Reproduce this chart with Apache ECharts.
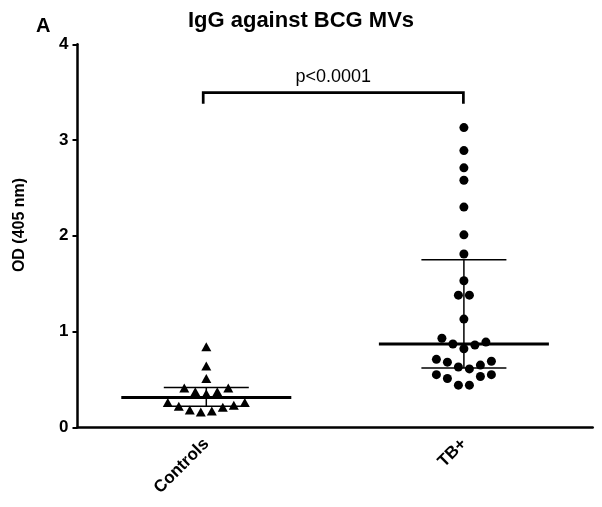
<!DOCTYPE html>
<html>
<head>
<meta charset="utf-8">
<script src="https://cdn.jsdelivr.net/npm/echarts@6/dist/echarts.min.js"></script>
<style>
html,body{margin:0;padding:0;background:#fff;}
#chart{width:602px;height:507px;}
</style>
</head>
<body>
<div id="chart"></div>
<script>
// ---- Data ----
const categories = ['Controls', 'TB+'];
const controlsValues = [0.84, 0.64, 0.51, 0.41, 0.37, 0.35, 0.37, 0.41, 0.26, 0.22, 0.18, 0.16, 0.17, 0.21, 0.23, 0.26];
const tbValues = [3.13, 2.89, 2.71, 2.58, 2.30, 2.01, 1.81, 1.53, 1.38, 1.38, 1.13,
  0.93, 0.87, 0.82, 0.86, 0.89,
  0.71, 0.68, 0.63, 0.61, 0.65, 0.69,
  0.55, 0.51, 0.44, 0.44, 0.53, 0.55];
const centerValues = [0.31, 0.87];
const lowerValues = [0.22, 0.62];
const upperValues = [0.415, 1.75];
const yTicks = [0, 1, 2, 3, 4];
const pLabel = 'p<0.0001';
const chartTitle = 'IgG against BCG MVs';
const panelLabel = 'A';
const yName = 'OD (405 nm)';

// ---- Layout (beeswarm slot indices, not data) ----
const controlsSlots = [0, 0, 0, -2, -1, 0, 1, 2, -3.5, -2.5, -1.5, -0.5, 0.5, 1.5, 2.5, 3.5];
const tbSlots = [0, 0, 0, 0, 0, 0, 0, 0, -0.5, 0.5, 0,
  -2, -1, 0, 1, 2,
  -2.5, -1.5, -0.5, 0.5, 1.5, 2.5,
  -2.5, -1.5, -0.5, 0.5, 1.5, 2.5];
const slotW = 0.0427;
const catCenter = i => i + 0.5;

const FONT = "'Liberation Sans', Arial, sans-serif";

const ctrlPts = controlsValues.map((v, i) => [catCenter(0) + controlsSlots[i] * slotW, v]);
const tbPts = tbValues.map((v, i) => [catCenter(1) + tbSlots[i] * slotW, v]);
const statData = categories.map((c, i) => [catCenter(i), centerValues[i], lowerValues[i], upperValues[i]]);

const chart = echarts.init(document.getElementById('chart'), null, {renderer: 'canvas'});
chart.setOption({
  backgroundColor: '#fff',
  animation: false,
  title: {
    text: chartTitle, left: 'center', top: 5,
    textStyle: {fontFamily: FONT, fontWeight: 'bold', fontSize: 22, color: '#000'}
  },
  graphic: [{
    type: 'text', left: 36, top: 16,
    style: {text: panelLabel, fontFamily: FONT, fontWeight: 'bold', fontSize: 20, fill: '#000'}
  }, {
    type: 'text', x: 20, y: 225, rotation: Math.PI / 2,
    style: {text: yName, fontFamily: FONT, fontWeight: 'bold', fontSize: 16, fill: '#000', align: 'center', verticalAlign: 'middle'}
  }],
  grid: {left: 77.5, right: 9.3, top: 44.3, bottom: 79.7},
  xAxis: [{
    type: 'category', data: categories, boundaryGap: true,
    axisLine: {lineStyle: {color: '#000', width: 2.5}},
    axisTick: {alignWithLabel: true, length: 6, lineStyle: {color: '#000', width: 2}},
    axisLabel: {rotate: 45, margin: 14, fontFamily: FONT, fontWeight: 'bold', fontSize: 17, color: '#000'},
    splitLine: {show: false}
  }, {
    type: 'value', min: 0, max: 2, show: false
  }],
  yAxis: {
    type: 'value', min: yTicks[0], max: yTicks[yTicks.length - 1], interval: 1,
    axisLine: {show: true, lineStyle: {color: '#000', width: 2.5}},
    axisTick: {show: true, length: 5, lineStyle: {color: '#000', width: 2}},
    axisLabel: {margin: 9, fontFamily: FONT, fontWeight: 'bold', fontSize: 17, color: '#000'},
    splitLine: {show: false}
  },
  series: [{
    type: 'scatter', xAxisIndex: 1, data: ctrlPts,
    symbol: 'triangle', symbolSize: [10, 9],
    itemStyle: {color: '#000', opacity: 1}, z: 3
  }, {
    type: 'scatter', xAxisIndex: 1, data: tbPts,
    symbol: 'circle', symbolSize: 9,
    itemStyle: {color: '#000', opacity: 1}, z: 3
  }, {
    type: 'custom', xAxisIndex: 1, data: statData, z: 4,
    renderItem: function (params, api) {
      const x = api.value(0), m = api.value(1), lo = api.value(2), hi = api.value(3);
      const mw = 0.33, cw = 0.165;
      const L = (a, b, w) => ({type: 'line', shape: {x1: a[0], y1: a[1], x2: b[0], y2: b[1]}, style: {stroke: '#000', lineWidth: w}});
      return {type: 'group', children: [
        L(api.coord([x - mw, m]), api.coord([x + mw, m]), 3),
        L(api.coord([x, lo]), api.coord([x, hi]), 1.5),
        L(api.coord([x - cw, hi]), api.coord([x + cw, hi]), 1.5),
        L(api.coord([x - cw, lo]), api.coord([x + cw, lo]), 1.5)
      ]};
    }
  }, {
    type: 'custom', xAxisIndex: 1, data: [[0.488, 1.498]], z: 4,
    renderItem: function (params, api) {
      const a = api.value(0), b = api.value(1);
      const top = 3.496, leg = 3.38;
      const pts = [api.coord([a, leg]), api.coord([a, top]), api.coord([b, top]), api.coord([b, leg])];
      const t = api.coord([(a + b) / 2, 3.66]);
      return {type: 'group', children: [
        {type: 'polyline', shape: {points: pts}, style: {stroke: '#000', lineWidth: 2.7, fill: null}},
        {type: 'text', x: t[0], y: t[1], style: {text: pLabel, fontFamily: FONT, fontSize: 18, fill: '#000', align: 'center', verticalAlign: 'middle'}}
      ]};
    }
  }]
});
</script>
</body>
</html>
